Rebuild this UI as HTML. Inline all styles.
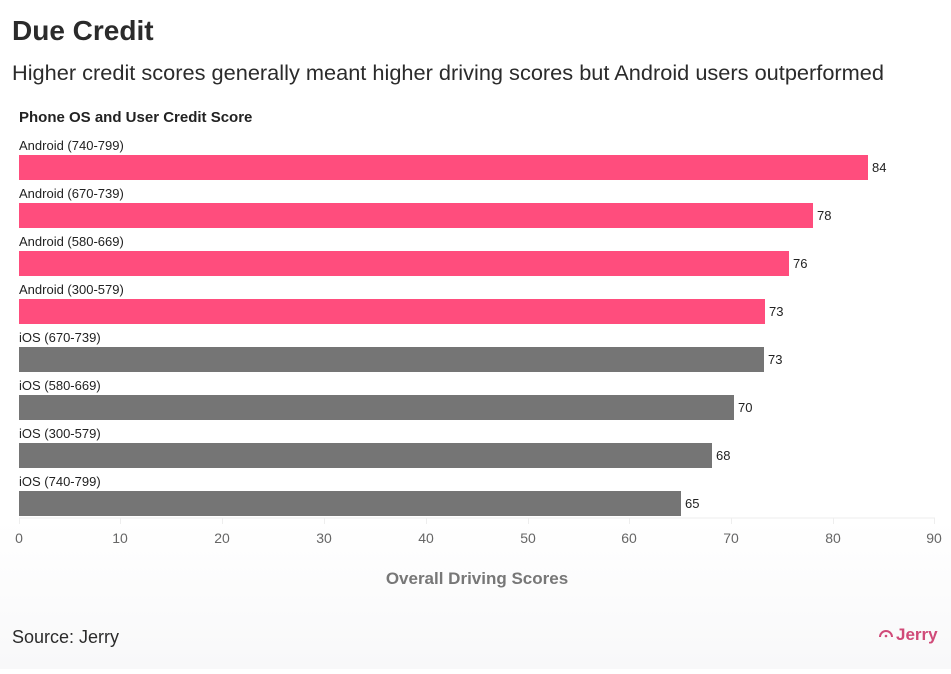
<!DOCTYPE html>
<html><head><meta charset="utf-8"><style>
body{margin:0;width:951px;height:669px;overflow:hidden;background:linear-gradient(#fff 0,#fff 520px,#f8f8f9 669px);font-family:"Liberation Sans",sans-serif}
</style></head><body>
<svg width="951" height="669" xmlns="http://www.w3.org/2000/svg" font-family="Liberation Sans, sans-serif">
<text x="12" y="40" font-size="28" font-weight="bold" fill="#2b2b2b">Due Credit</text>
<text x="12" y="80" font-size="21" fill="#2b2b2b" textLength="872" lengthAdjust="spacingAndGlyphs">Higher credit scores generally meant higher driving scores but Android users outperformed</text>
<text x="19" y="122" font-size="15" font-weight="bold" fill="#222">Phone OS and User Credit Score</text>
<g stroke="#eee" stroke-width="1">
<line x1="19" y1="518" x2="935" y2="518"/>
<line x1="19.5" y1="518" x2="19.5" y2="524"/><line x1="120.5" y1="518" x2="120.5" y2="524"/><line x1="222.5" y1="518" x2="222.5" y2="524"/><line x1="324.5" y1="518" x2="324.5" y2="524"/><line x1="426.5" y1="518" x2="426.5" y2="524"/><line x1="528.5" y1="518" x2="528.5" y2="524"/><line x1="629.5" y1="518" x2="629.5" y2="524"/><line x1="731.5" y1="518" x2="731.5" y2="524"/><line x1="833.5" y1="518" x2="833.5" y2="524"/><line x1="934.5" y1="518" x2="934.5" y2="524"/>
</g>
<g font-size="13" fill="#222">
<text x="19" y="150">Android (740-799)</text>
<text x="19" y="198">Android (670-739)</text>
<text x="19" y="246">Android (580-669)</text>
<text x="19" y="294">Android (300-579)</text>
<text x="19" y="342">iOS (670-739)</text>
<text x="19" y="390">iOS (580-669)</text>
<text x="19" y="438">iOS (300-579)</text>
<text x="19" y="486">iOS (740-799)</text>
</g>
<g fill="#ff4d7d">
<rect x="19" y="155" width="849" height="25"/>
<rect x="19" y="203" width="794" height="25"/>
<rect x="19" y="251" width="770" height="25"/>
<rect x="19" y="299" width="746" height="25"/>
</g>
<g fill="#757575">
<rect x="19" y="347" width="745" height="25"/>
<rect x="19" y="395" width="715" height="25"/>
<rect x="19" y="443" width="693" height="25"/>
<rect x="19" y="491" width="662" height="25"/>
</g>
<g font-size="13" fill="#222">
<text x="872" y="172">84</text>
<text x="817" y="220">78</text>
<text x="793" y="268">76</text>
<text x="769" y="316">73</text>
<text x="768" y="364">73</text>
<text x="738" y="412">70</text>
<text x="716" y="460">68</text>
<text x="685" y="508">65</text>
</g>
<g font-size="14" fill="#666" text-anchor="middle">
<text x="19" y="543">0</text><text x="120" y="543">10</text><text x="222" y="543">20</text><text x="324" y="543">30</text><text x="426" y="543">40</text><text x="528" y="543">50</text><text x="629" y="543">60</text><text x="731" y="543">70</text><text x="833" y="543">80</text><text x="934" y="543">90</text>
</g>
<text x="477" y="584" font-size="17" font-weight="bold" fill="#777" text-anchor="middle">Overall Driving Scores</text>
<text x="12" y="643" font-size="18" fill="#2b2b2b">Source: Jerry</text>
<path d="M880 637 a6 6 0 0 1 12 0" fill="none" stroke="#d04a78" stroke-width="2"/>
<circle cx="886" cy="636" r="1.3" fill="#d04a78"/>
<text x="896" y="640" font-size="17" font-weight="bold" fill="#d04a78">Jerry</text>
</svg>
</body></html>
